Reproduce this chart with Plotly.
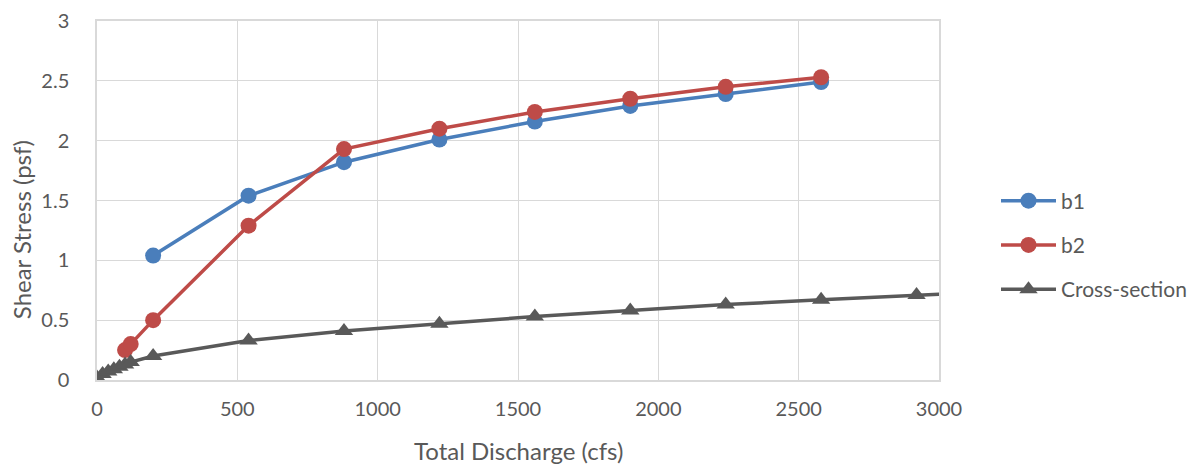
import plotly.graph_objects as go

b1_x = [200, 540, 880, 1220, 1560, 1900, 2240, 2580]
b1_y = [1.04, 1.54, 1.82, 2.01, 2.16, 2.29, 2.39, 2.49]

b2_x = [100, 120, 200, 540, 880, 1220, 1560, 1900, 2240, 2580]
b2_y = [0.25, 0.30, 0.50, 1.29, 1.93, 2.10, 2.24, 2.35, 2.45, 2.53]

cs_x = [0, 20, 40, 60, 80, 100, 120, 200, 540, 880, 1220, 1560, 1900, 2240, 2580, 2920, 3260]
cs_y = [0.02, 0.05, 0.07, 0.09, 0.11, 0.13, 0.15, 0.20, 0.33, 0.41, 0.47, 0.53, 0.58, 0.63, 0.67, 0.71, 0.745]

x_title = "Total Discharge (cfs)"
y_title = "Shear Stress (psf)"

FONT = "Lato, 'Open Sans', sans-serif"
TXT = "#595959"
GRID = "#D9D9D9"

fig = go.Figure()
fig.add_trace(go.Scatter(x=b1_x, y=b1_y, name="b1", mode="lines+markers",
                         line=dict(color="#4A7EBB", width=3.5),
                         marker=dict(symbol="circle", size=16, color="#4A7EBB"),
                         legendgroup="a"))
fig.add_trace(go.Scatter(x=b2_x, y=b2_y, name="b2", mode="lines+markers",
                         line=dict(color="#BE4B48", width=3.5),
                         marker=dict(symbol="circle", size=16, color="#BE4B48"),
                         legendgroup="b"))
fig.add_trace(go.Scatter(x=cs_x, y=cs_y, name="Cross-section", mode="lines+markers",
                         line=dict(color="#595959", width=3.5),
                         marker=dict(symbol="triangle-up", size=16, color="#595959"),
                         legendgroup="c"))

fig.update_layout(
    width=1200, height=465,
    margin=dict(l=89, r=269, t=13, b=93, autoexpand=False),
    paper_bgcolor="white", plot_bgcolor="white",
    font=dict(family=FONT, size=20, color=TXT),
    legend=dict(x=1.0677, y=0.376, xanchor="left", yanchor="middle",
                font=dict(size=21, color=TXT), tracegroupgap=14,
                itemwidth=55),
    xaxis=dict(range=[0, 3000], dtick=500, showgrid=True, gridcolor=GRID,
               gridwidth=1.2, zeroline=False, showline=True, linecolor=GRID,
               linewidth=1.5, mirror=True, ticks="", ticklabelstandoff=10,
               tickfont=dict(size=20, color=TXT)),
    yaxis=dict(range=[0, 3], dtick=0.5, showgrid=True, gridcolor=GRID,
               gridwidth=1.2, zeroline=False, showline=True, linecolor=GRID,
               linewidth=1.5, mirror=True, ticks="",
               ticklabelstandoff=22, ticklabeloverflow="allow",
               tickfont=dict(size=20, color=TXT)),
    annotations=[
        dict(text=x_title, xref="paper", yref="paper", x=0.5, y=-0.195,
             xanchor="center", yanchor="middle", showarrow=False,
             font=dict(size=24, color=TXT)),
        dict(text=y_title, xref="paper", yref="paper", x=-0.0903, y=0.42,
             xanchor="center", yanchor="middle", showarrow=False, textangle=-90,
             font=dict(size=24, color=TXT)),
    ],
)

fig.write_html("out.html")
